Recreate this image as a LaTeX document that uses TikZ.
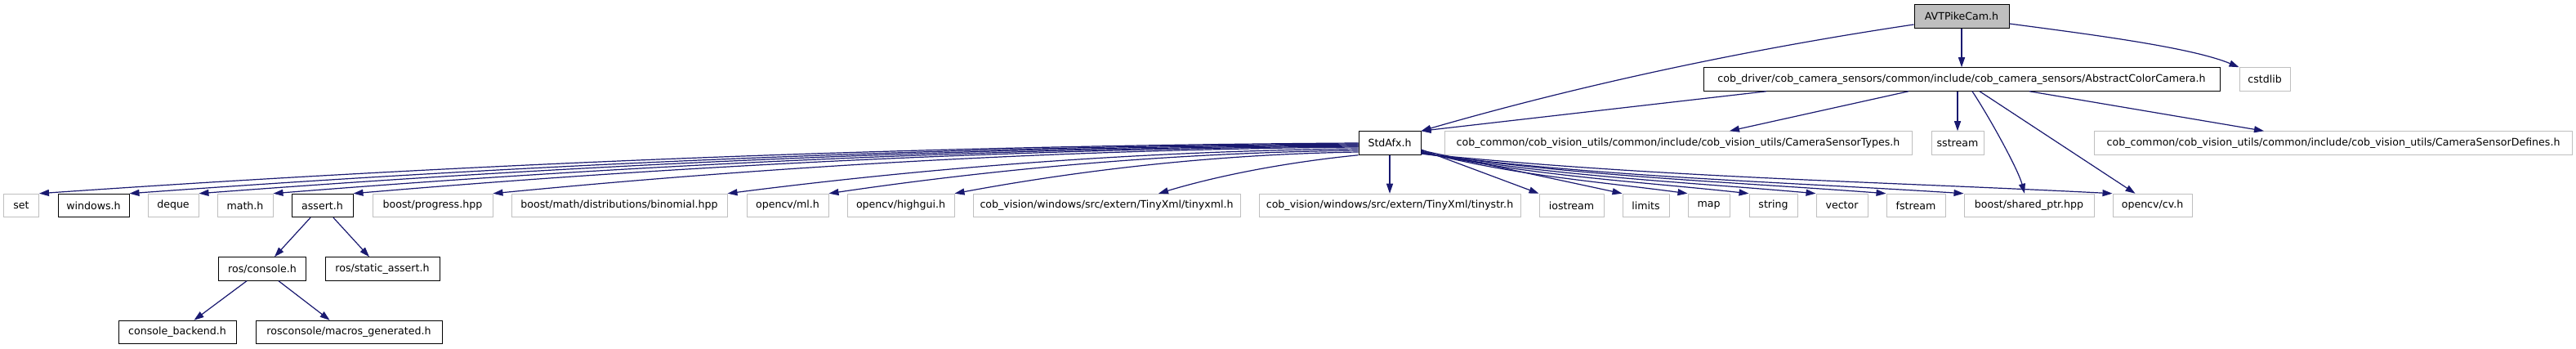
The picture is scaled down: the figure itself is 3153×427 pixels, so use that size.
\documentclass[tikz,border=0pt]{standalone}
\usepackage{fontspec}
\setmainfont{DejaVu Sans}
\usetikzlibrary{arrows.meta}
\definecolor{edgeblue}{HTML}{191970}
\definecolor{undocgray}{HTML}{BFBFBF}
\definecolor{rootfill}{HTML}{BFBFBF}
\begin{document}
\begin{tikzpicture}[x=1pt,y=-1pt,
  box/.style={rectangle, inner sep=0pt, minimum height=28.5pt, font=\fontsize{12.6}{14}\selectfont, line width=1pt, text=black},
  doc/.style={box, draw=black, fill=white},
  undoc/.style={box, draw=undocgray, fill=white},
  root/.style={box, draw=black, fill=rootfill},
  dep/.style={draw=edgeblue, line width=1.2pt, -{Triangle[length=12pt,width=8pt]}}]
\useasboundingbox[fill=white] (0,0) rectangle (3153,427);
% row 0/1/2
\node[root, minimum width=116pt] (avt) at (2401,20) {AVTPikeCam.h};
\node[doc, minimum width=632pt] (acc) at (2401,97) {cob\_driver/cob\_camera\_sensors/common/include/cob\_camera\_sensors/AbstractColorCamera.h};
\node[undoc, minimum width=62pt] (cstd) at (2772,97) {cstdlib};
\node[doc, minimum width=76pt] (std) at (1701,175) {StdAfx.h};
\node[undoc, minimum width=572pt] (types) at (2054,175) {cob\_common/cob\_vision\_utils/common/include/cob\_vision\_utils/CameraSensorTypes.h};
\node[undoc, minimum width=64pt] (sstr) at (2396,175) {sstream};
\node[undoc, minimum width=585pt] (defs) at (2856,175) {cob\_common/cob\_vision\_utils/common/include/cob\_vision\_utils/CameraSensorDefines.h};
% row 3
\node[undoc, minimum width=43pt] (set) at (26,251.5) {set};
\node[doc, minimum width=87pt] (win) at (114.5,251.5) {windows.h};
\node[undoc, minimum width=62pt] (deque) at (212,251.5) {deque};
\node[undoc, minimum width=68pt] (math) at (300,251.5) {math.h};
\node[doc, minimum width=75pt] (assert) at (394.5,251.5) {assert.h};
\node[undoc, minimum width=147pt] (prog) at (529.5,251.5) {boost/progress.hpp};
\node[undoc, minimum width=264pt] (binom) at (758,251.5) {boost/math/distributions/binomial.hpp};
\node[undoc, minimum width=100pt] (ml) at (964,251.5) {opencv/ml.h};
\node[undoc, minimum width=131pt] (hg) at (1102.5,251.5) {opencv/highgui.h};
\node[undoc, minimum width=327pt] (txml) at (1354.5,251.5) {cob\_vision/windows/src/extern/TinyXml/tinyxml.h};
\node[undoc, minimum width=320pt] (tstr) at (1701,251.5) {cob\_vision/windows/src/extern/TinyXml/tinystr.h};
\node[undoc, minimum width=79pt] (ios) at (1923.5,251.5) {iostream};
\node[undoc, minimum width=57pt] (lim) at (2014.5,251.5) {limits};
\node[undoc, minimum width=51pt] (map) at (2091.5,251.5) {map};
\node[undoc, minimum width=59pt] (str) at (2170.5,251.5) {string};
\node[undoc, minimum width=63pt] (vec) at (2254.5,251.5) {vector};
\node[undoc, minimum width=72pt] (fstr) at (2345,251.5) {fstream};
\node[undoc, minimum width=159pt] (shp) at (2483.5,251.5) {boost/shared\_ptr.hpp};
\node[undoc, minimum width=97pt] (cv) at (2634.5,251.5) {opencv/cv.h};
% row 4/5
\node[doc, minimum width=107pt] (rcon) at (321,329) {ros/console.h};
\node[doc, minimum width=140pt] (rsa) at (468,329) {ros/static\_assert.h};
\node[doc, minimum width=144pt] (back) at (217,406.5) {console\_backend.h};
\node[doc, minimum width=228pt] (macro) at (427,406.5) {rosconsole/macros\_generated.h};
% edges from AVTPikeCam.h
\draw[dep] (avt.south) -- (acc.north);
\draw[dep] ([yshift=-10pt]avt.west) .. controls +(-201,30) and +(201,-58) .. (std.north east);
\draw[dep] ([yshift=-9pt]avt.east) .. controls +(90,12) and +(-60,-25) .. (cstd.north west);
% edges from AbstractColorCamera.h
\draw[dep] ([xshift=-239pt]acc.south) -- (std.north east);
\draw[dep] ([xshift=-65pt]acc.south) -- ([xshift=63pt]types.north);
\draw[dep] (sstr.north |- acc.south) -- (sstr.north);
\draw[dep] ([xshift=13pt]acc.south) .. controls +(20,30) and +(-8,-30) .. ([xshift=-5.5pt]shp.north);
\draw[dep] ([xshift=22pt]acc.south) -- ([xshift=-21pt]cv.north);
\draw[dep] ([xshift=83pt]acc.south) -- ([xshift=-85pt]defs.north);
% edges from StdAfx.h to the left
\draw[dep] (std.west) .. controls +(-538.5,3.1) and +(538.5,-37.2) .. (set.north east);
\draw[dep] ([yshift=-1pt]std.west) .. controls +(-501.7,3) and +(501.7,-36.6) .. (win.north east);
\draw[dep] ([yshift=-2pt]std.west) .. controls +(-473.3,3) and +(473.3,-36) .. (deque.north east);
\draw[dep] ([yshift=-3pt]std.west) .. controls +(-443,3) and +(443,-35.4) .. (math.north east);
\draw[dep] ([yshift=-4pt]std.west) .. controls +(-410.3,2.9) and +(410.3,-34.8) .. (assert.north east);
\draw[dep] ([yshift=-5pt]std.west) .. controls +(-353.3,2.9) and +(353.3,-34.2) .. (prog.north east);
\draw[dep] ([yshift=-7pt]std.west) .. controls +(-257.7,2.8) and +(257.7,-33) .. (binom.north east);
\draw[dep] ([yshift=-9pt]std.west) .. controls +(-216.3,2.7) and +(216.3,-31.8) .. (ml.north east);
\draw[dep] ([yshift=-11pt]std.west) .. controls +(-165,2.6) and +(165,-30.6) .. (hg.north east);
\draw[dep] (std.south west) .. controls +(-80,8) and +(80,-24) .. ([xshift=63.5pt]txml.north);
\draw[dep] (std.south) -- (tstr.north);
% edges from StdAfx.h to the right
\draw[dep] ([yshift=-8pt]std.east) -- (ios.north west);
\draw[dep] ([yshift=-9pt]std.east) -- (lim.north west);
\draw[dep] ([yshift=-10pt]std.east) .. controls +(109,29.4) and +(-109,-14.7) .. (map.north west);
\draw[dep] ([yshift=-11pt]std.east) .. controls +(134,29.4) and +(-134,-14.7) .. (str.north west);
\draw[dep] ([yshift=-12pt]std.east) .. controls +(161,28.8) and +(-161,-14.4) .. (vec.north west);
\draw[dep] ([yshift=-12pt]std.east) .. controls +(190,28.8) and +(-190,-14.4) .. (fstr.north west);
\draw[dep] ([yshift=-13pt]std.east) .. controls +(222,28.8) and +(-222,-14.4) .. (shp.north west);
\draw[dep] ([yshift=-13pt]std.east) .. controls +(282,28.8) and +(-282,-14.4) .. (cv.north west);
% lower edges
\draw[dep] ([xshift=-14.5pt]assert.south) -- ([xshift=15pt]rcon.north);
\draw[dep] ([xshift=13.5pt]assert.south) -- ([xshift=-16pt]rsa.north);
\draw[dep] ([xshift=-19pt]rcon.south) -- ([xshift=20.5pt]back.north);
\draw[dep] ([xshift=20pt]rcon.south) -- ([xshift=-23.4pt]macro.north);
\end{tikzpicture}
\end{document}
